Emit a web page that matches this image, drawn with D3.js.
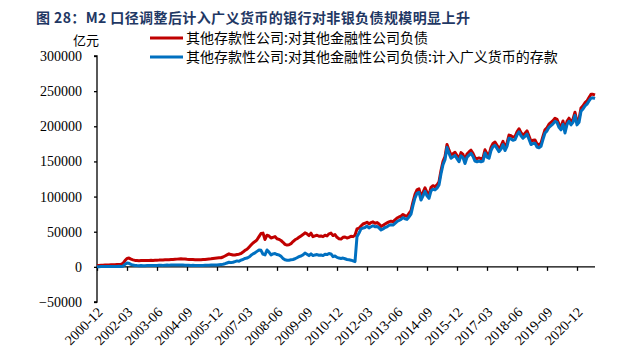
<!DOCTYPE html>
<html>
<head>
<meta charset="utf-8">
<script src="https://cdn.jsdelivr.net/npm/d3@7"></script>
<style>
  body { margin: 0; background: #fff; }
  .axis path, .axis line { stroke: #000; stroke-width: 1.3; }
  .axis text { font-family: "Liberation Serif", "Times New Roman", serif; font-size: 14px; fill: #000; }
</style>
</head>
<body>
<div id="chart"></div>
<script>
// series names
var seriesNames = ["其他存款性公司:对其他金融性公司负债", "其他存款性公司:对其他金融性公司负债:计入广义货币的存款"]

// first month is 2000-12, one value per month up to 2021-09
var startMonth = "2000-12"

// 其他存款性公司:对其他金融性公司负债 (亿元)
var totalValues = [
  2000,
  2100, 2400, 2300, 2600, 2800, 2700, 3000, 3100, 2900, 3300, 3400, 3600, // 2001
  5000, 9000, 12000, 12500, 11000, 10000, 9200, 9000, 8800, 9000, 9100, 9000, // 2002
  9000, 9200, 9300, 9100, 9400, 9500, 9600, 9800, 9700, 10000, 10200, 10100, // 2003
  10400, 10600, 10800, 11000, 11200, 11400, 11300, 11100, 10800, 10600, 10400, 10300, // 2004
  10200, 10100, 10000, 10200, 10400, 10600, 10900, 11200, 11500, 11900, 12300, 12600, // 2005
  12800, 13000, 14000, 15500, 17000, 18500, 17500, 16800, 17000, 17500, 18000, 19000, // 2006
  21000, 23500, 25000, 28000, 31000, 34000, 36000, 38500, 43000, 47500, 48000, 39000, // 2007
  45000, 44000, 41000, 42000, 43000, 40000, 39000, 37500, 35000, 32000, 31000, 31500, // 2008
  33000, 36000, 38500, 40000, 42000, 44000, 46000, 48500, 47000, 44500, 48000, 43000, // 2009
  44000, 45000, 43500, 44000, 43000, 45000, 44000, 47000, 48000, 44500, 46000, 42000, // 2010
  40000, 39500, 42000, 42500, 41000, 42000, 43500, 43000, 45000, 54000, 55000, 58000, // 2011
  61000, 62000, 63500, 61000, 63000, 64000, 62000, 63000, 61000, 57500, 59000, 61000, // 2012
  62500, 64000, 65000, 64000, 67000, 69500, 71000, 72000, 74500, 73000, 72000, 76000, // 2013
  80000, 92500, 103000, 109500, 111000, 100000, 106000, 112500, 106000, 102500, 113000, 115500, // 2014
  114000, 116500, 121000, 137000, 150000, 157000, 174000, 166000, 159000, 161000, 163000, 158500, // 2015
  154000, 162500, 160000, 151500, 160500, 163500, 166000, 161500, 155000, 154000, 155000, 154000, // 2016
  155000, 166500, 161000, 159000, 170000, 175500, 177500, 173000, 168500, 172000, 178500, 170000, // 2017
  176000, 187500, 186500, 184500, 185500, 192000, 196500, 191000, 187500, 190000, 193500, 186000, // 2018
  178500, 180000, 180500, 175000, 174000, 176000, 186000, 195000, 198000, 203000, 205500, 208000, // 2019
  211500, 210000, 203000, 199500, 207500, 195000, 207000, 211500, 206500, 210000, 220000, 206500, // 2020
  210000, 226000, 229000, 233500, 236000, 241000, 245500, 245500, 244500 // 2021
]

// 其他存款性公司:对其他金融性公司负债:计入广义货币的存款 (亿元)
var m2Values = [
  300,
  300, 400, 350, 400, 500, 450, 500, 600, 550, 600, 700, 650, // 2001
  1000, 3500, 5500, 5000, 3500, 2500, 2000, 1800, 1700, 1800, 1600, 1700, // 2002
  1800, 1900, 2000, 1900, 2100, 2000, 2200, 2300, 2100, 2400, 2500, 2300, // 2003
  2500, 2600, 2700, 2800, 2700, 2600, 2500, 2400, 2300, 2200, 2100, 2200, // 2004
  2100, 2000, 1900, 2000, 2100, 2200, 2300, 2400, 2500, 2600, 2700, 2800, // 2005
  3000, 3200, 3800, 4500, 5500, 6500, 6000, 6500, 7500, 8500, 8000, 9500, // 2006
  10500, 12000, 12500, 14000, 16500, 18500, 20000, 22000, 24000, 23500, 18000, 17000, // 2007
  24000, 21000, 17000, 18500, 19000, 17500, 17000, 15000, 12000, 10000, 9500, 9500, // 2008
  10000, 10500, 11500, 13000, 14500, 15500, 17000, 19500, 18000, 16000, 18500, 16000, // 2009
  17000, 17500, 16500, 17000, 16000, 18000, 17500, 19000, 18500, 14500, 15500, 13500, // 2010
  12500, 12000, 12500, 11500, 10500, 10000, 9500, 8500, 7500, 43000, 48000, 54000, // 2011
  55000, 56000, 58000, 55500, 57000, 58500, 57000, 57500, 55500, 52500, 54000, 56000, // 2012
  57000, 59000, 60000, 59500, 62000, 64500, 66000, 67500, 70000, 68500, 67500, 71000, // 2013
  75000, 87500, 98000, 104500, 106000, 95000, 101000, 107500, 101000, 97500, 108000, 110500, // 2014
  109500, 112000, 116500, 132500, 145500, 152500, 170000, 161500, 154500, 156500, 158500, 154000, // 2015
  149500, 158000, 155500, 147000, 156000, 159000, 161500, 157000, 150500, 149500, 150500, 149500, // 2016
  150500, 162000, 156000, 154500, 165500, 171000, 173000, 168500, 164000, 167500, 174000, 165500, // 2017
  171500, 183000, 182000, 180000, 181000, 187500, 192000, 186500, 183000, 185500, 189000, 181500, // 2018
  174000, 175500, 176000, 170500, 169500, 171500, 181500, 190500, 193500, 198500, 201000, 203500, // 2019
  207000, 205500, 198500, 195000, 203000, 190500, 202500, 207000, 202000, 205500, 215500, 202000, // 2020
  205500, 221500, 224500, 229000, 231500, 236000, 240000, 240500, 239500 // 2021
]

// x tick labels, one every 15 months
var tickLabels = ["2000-12", "2002-03", "2003-06", "2004-09", "2005-12", "2007-03", "2008-06", "2009-09",
                  "2010-12", "2012-03", "2013-06", "2014-09", "2015-12", "2017-03", "2018-06", "2019-09", "2020-12"]
var yTicks = [-50000, 0, 50000, 100000, 150000, 200000, 250000, 300000]

var colors = ["#C00000", "#0070C0"]

var width = 634
var height = 360
var plot = {left: 97, right: 595, top: 56, bottom: 302}

var svg = d3.select("#chart")
            .append("svg")
            .attr("width", width)
            .attr("height", height)

// title
svg.append("text")
   .attr("x", 36)
   .attr("y", 23)
   .style("font-family", "'Noto Sans CJK SC', sans-serif")
   .style("font-weight", "bold")
   .style("font-size", "14px")
   .style("letter-spacing", "0.4px")
   .style("fill", "#1F3864")
   .text("图 28：M2 口径调整后计入广义货币的银行对非银负债规模明显上升")

// unit
svg.append("text")
   .attr("x", 73)
   .attr("y", 45)
   .style("font-family", "'Noto Sans CJK SC', sans-serif")
   .style("font-size", "13px")
   .text("亿元")

// scales: x is the month index
var xScale = d3.scaleLinear().domain([0, totalValues.length - 1]).range([plot.left, plot.right])
var yScale = d3.scaleLinear().domain([-50000, 300000]).range([plot.bottom, plot.top])

var yAxis = d3.axisLeft(yScale).tickValues(yTicks).tickSize(3).tickPadding(12).tickFormat(d3.format("d"))
svg.append("g")
   .attr("class", "axis axis--y")
   .attr("transform", "translate(" + plot.left + ",0)")
   .call(yAxis)
   .call(g => g.select(".domain").attr("d", "M-3," + plot.top + "H0V" + plot.bottom + "H-3"))

// x axis sits on the zero line
var xAxis = d3.axisBottom(xScale)
              .tickValues(tickLabels.map((d, i) => i * 15))
              .tickSize(4)
              .tickFormat((d, i) => tickLabels[i])
var gx = svg.append("g")
   .attr("class", "axis axis--x")
   .attr("transform", "translate(0," + yScale(0) + ")")
   .call(xAxis)
gx.select(".domain").attr("d", "M" + plot.left + ",0H" + plot.right)
gx.selectAll("text")
  .attr("text-anchor", "end")
  .attr("transform", "translate(6," + (plot.bottom - yScale(0) + 11) + ") rotate(-45)")
  .attr("x", 0)
  .attr("y", 0)
  .attr("dy", "0")

// lines
var line = d3.line()
             .x((d, i) => xScale(i))
             .y(d => yScale(d))

;[totalValues, m2Values].forEach((vals, k) => {
  svg.append("path")
     .datum(vals)
     .attr("fill", "none")
     .attr("stroke", colors[k])
     .attr("stroke-width", 3)
     .attr("stroke-linejoin", "round")
     .attr("d", line)
})

// legend
var legend = svg.append("g")
seriesNames.forEach((name, k) => {
  var ly = 38 + k * 19
  legend.append("line")
        .attr("x1", 150).attr("x2", 183)
        .attr("y1", ly).attr("y2", ly)
        .attr("stroke", colors[k])
        .attr("stroke-width", 3)
  legend.append("text")
        .attr("x", 186)
        .attr("y", ly + 5)
        .style("font-family", "'Noto Sans CJK SC', sans-serif")
        .style("font-size", "14px")
        .text(name)
})
</script>
</body>
</html>
